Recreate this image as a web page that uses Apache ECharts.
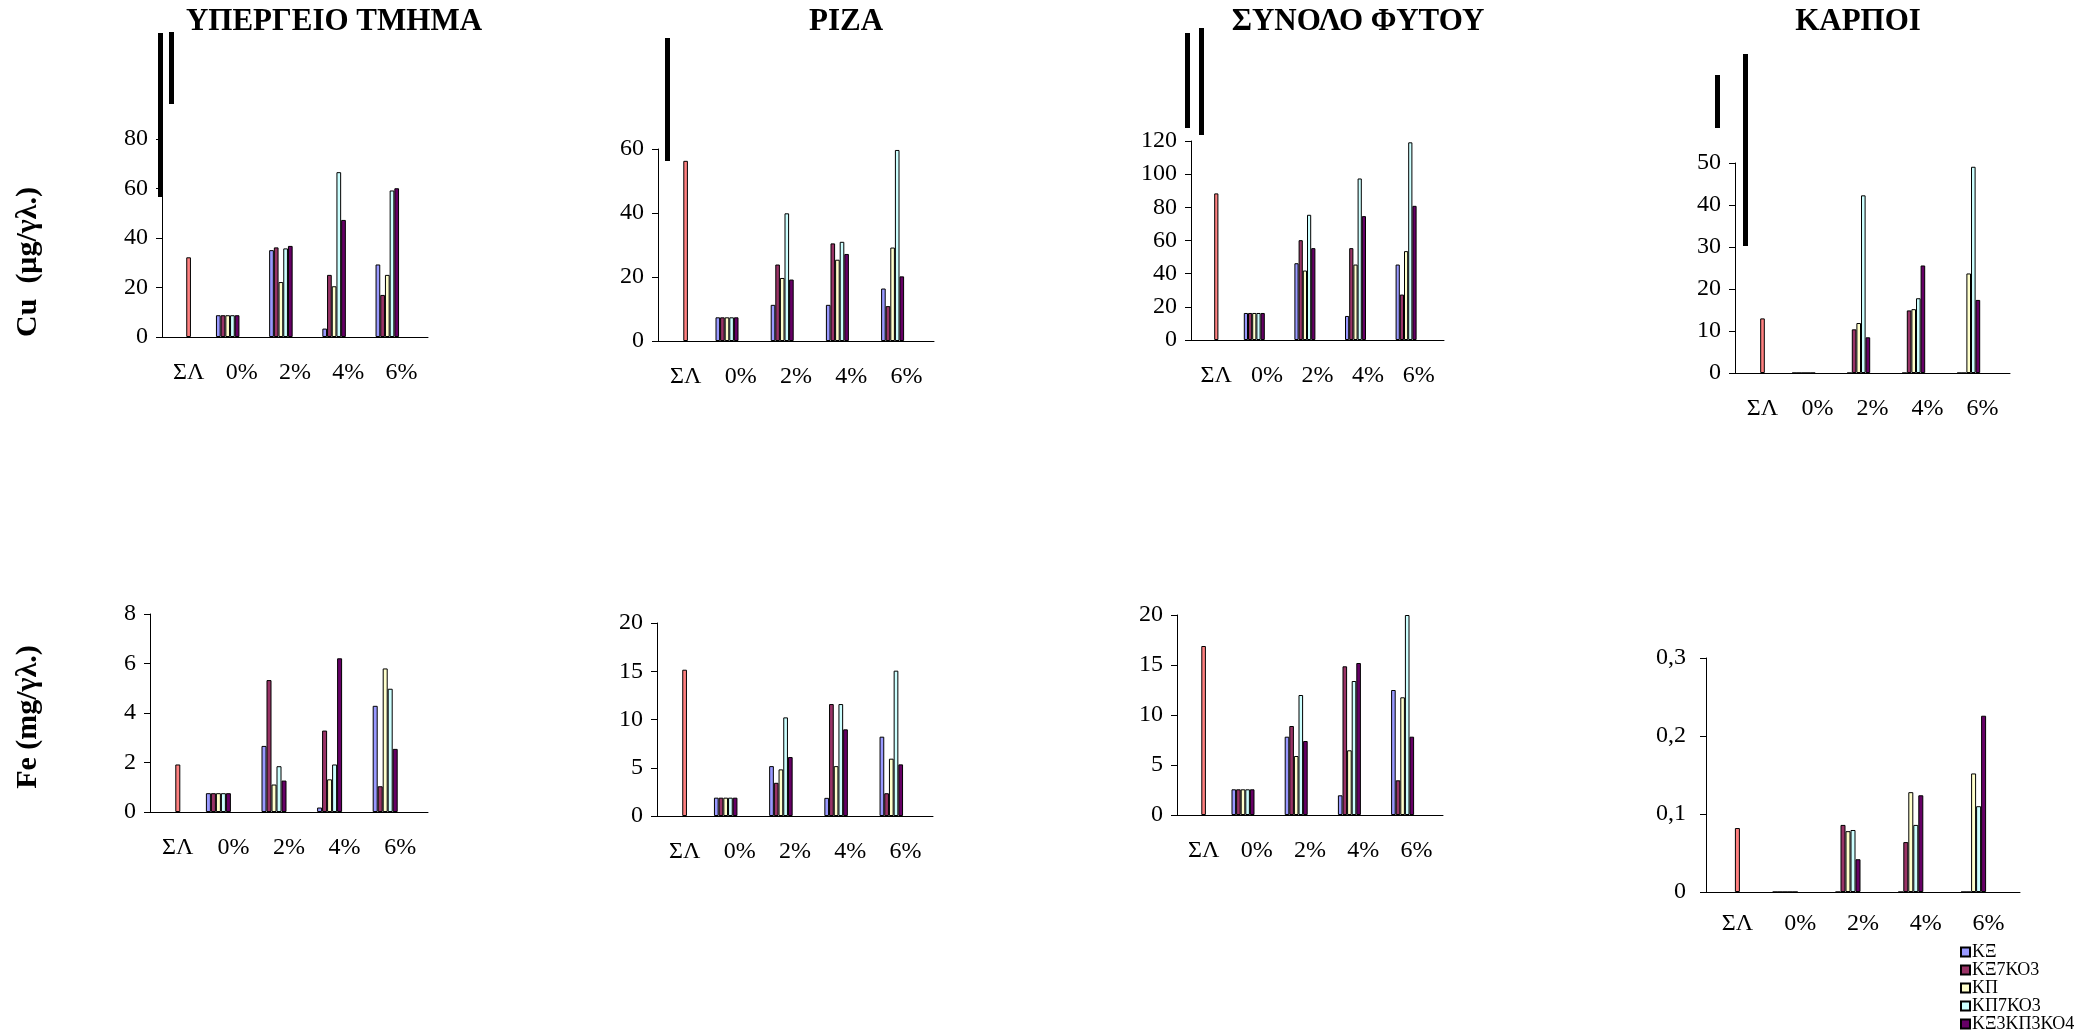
<!DOCTYPE html>
<html>
<head>
<meta charset="utf-8">
<script src="https://cdn.jsdelivr.net/npm/echarts@6/dist/echarts.min.js"></script>
<style>
  html, body { margin: 0; padding: 0; background: #fff; }
  #chart { width: 2098px; height: 1034px; }
</style>
</head>
<body>
<div id="chart"></div>
<script>
// Categories on every x axis
const categories = ['ΣΛ', '0%', '2%', '4%', '6%'];
// Treatments (legend order) and the control series
const treatments = ['ΚΞ', 'ΚΞ7ΚΟ3', 'ΚΠ', 'ΚΠ7ΚΟ3', 'ΚΞ3ΚΠ3ΚΟ4'];
const controlName = 'ΣΛ';
const treatmentColors = ['#9999FF', '#993366', '#FFFFCC', '#CCFFFF', '#660066'];
const controlColor = '#FF8080';

const panelTitles = ['ΥΠΕΡΓΕΙΟ ΤΜΗΜΑ', 'ΡΙΖΑ', 'ΣΥΝΟΛΟ ΦΥΤΟΥ', 'ΚΑΡΠΟΙ'];
const rowTitles = ['Cu  (μg/γλ.)', 'Fe (mg/γλ.)'];

// Cu, μg/g — control value, then one row per treatment for 0%, 2%, 4%, 6%
const cuShootControl = 32.2;
const cuShoot = [
  [8.8, 35.1, 3.4, 29.3],
  [8.8, 36.2, 25.1, 17.0],
  [8.8, 22.2, 20.5, 25.1],
  [8.8, 35.8, 66.6, 59.2],
  [8.8, 36.8, 47.3, 60.1]
];
const cuRootControl = 56.3;
const cuRoot = [
  [7.4, 11.3, 11.3, 16.4],
  [7.4, 23.9, 30.5, 10.9],
  [7.4, 19.7, 25.4, 29.2],
  [7.4, 39.9, 31.0, 59.7],
  [7.4, 19.2, 27.2, 20.2]
];
const cuPlantControl = 88.4;
const cuPlant = [
  [16.3, 46.3, 14.5, 45.5],
  [16.3, 60.2, 55.4, 27.4],
  [16.3, 41.9, 45.5, 53.6],
  [16.3, 75.5, 97.4, 119.2],
  [16.3, 55.4, 74.7, 80.9]
];
const cuFruitControl = 13.0;
const cuFruit = [
  [0, 0, 0, 0],
  [0, 10.4, 14.9, 0],
  [0, 11.9, 15.2, 23.7],
  [0, 42.3, 17.8, 49.1],
  [0, 8.5, 25.6, 17.4]
];

// Fe, mg/g
const feShootControl = 1.92;
const feShoot = [
  [0.76, 2.67, 0.18, 4.29],
  [0.76, 5.33, 3.29, 1.04],
  [0.76, 1.11, 1.32, 5.80],
  [0.76, 1.85, 1.92, 4.98],
  [0.76, 1.27, 6.21, 2.55]
];
const feRootControl = 15.16;
const feRoot = [
  [1.9, 5.17, 1.88, 8.22],
  [1.9, 3.44, 11.6, 2.36],
  [1.9, 4.83, 5.17, 5.94],
  [1.9, 10.22, 11.6, 15.06],
  [1.9, 6.11, 8.98, 5.35]
];
const fePlantControl = 16.9;
const fePlant = [
  [2.57, 7.83, 1.97, 12.5],
  [2.57, 8.9, 14.87, 3.47],
  [2.57, 5.9, 6.47, 11.77],
  [2.57, 12.0, 13.4, 20.0],
  [2.57, 7.4, 15.2, 7.83]
];
const feFruitControl = 0.082;
const feFruit = [
  [0, 0, 0, 0],
  [0, 0.086, 0.064, 0],
  [0, 0.078, 0.128, 0.152],
  [0, 0.0795, 0.086, 0.110],
  [0, 0.042, 0.124, 0.226]
];

// Axis ranges per panel
const axisMax = [80, 60, 120, 50, 8, 20, 20, 0.3];
const axisStep = [20, 20, 20, 10, 2, 5, 5, 0.1];

// Layout of each panel: plot box [left, top, width, height] and bar width
const layout = [
  { box: [162, 139, 266, 198], barW: 4.7 },
  { box: [658, 149, 276, 192], barW: 4.6 },
  { box: [1191, 141, 253, 199], barW: 4.2 },
  { box: [1735, 163, 275, 210], barW: 4.6 },
  { box: [150, 614, 278, 198], barW: 5.0 },
  { box: [657, 623, 276, 193], barW: 4.7 },
  { box: [1177, 615, 266, 200], barW: 4.6 },
  { box: [1706, 658, 314, 234], barW: 5.0 }
];

const panelData = [
  [cuShootControl, cuShoot], [cuRootControl, cuRoot], [cuPlantControl, cuPlant], [cuFruitControl, cuFruit],
  [feShootControl, feShoot], [feRootControl, feRoot], [fePlantControl, fePlant], [feFruitControl, feFruit]
];

const FONT = '"Liberation Serif", "Times New Roman", serif';

const grid = [], xAxis = [], yAxis = [], series = [];

panelData.forEach(([control, rows], i) => {
  const L = layout[i];
  const [left, top, width, height] = L.box;
  const axisGrid = 2 * i, barGrid = 2 * i + 1;
  // visible axes
  grid.push({ left, top, width, height, containLabel: false });
  // bar plot area: the control bar sits on the category centre
  grid.push({ left: left - 2.5 * L.barW, top, width, height, containLabel: false });

  xAxis.push({
    gridIndex: axisGrid, type: 'category', data: categories,
    axisLine: { show: true, lineStyle: { color: '#000', width: 1 } },
    axisTick: { show: false },
    axisLabel: { interval: 0, color: '#000', fontSize: 24, fontFamily: FONT, margin: i === 7 ? 20 : 24 }
  });
  xAxis.push({ gridIndex: barGrid, type: 'category', data: categories, show: false });

  const comma = axisMax[i] < 1;
  yAxis.push({
    gridIndex: axisGrid, type: 'value', min: 0, max: axisMax[i], interval: axisStep[i],
    axisLine: { show: true, lineStyle: { color: '#000', width: 1 } },
    axisTick: { show: true, length: 6, lineStyle: { color: '#000' } },
    splitLine: { show: false },
    axisLabel: {
      color: '#000', fontSize: 24, fontFamily: FONT, margin: comma ? 20 : 14,
      formatter: v => comma ? String(+v.toFixed(2)).replace('.', ',') : String(v)
    }
  });
  yAxis.push({ gridIndex: barGrid, type: 'value', min: 0, max: axisMax[i], show: false });

  treatments.forEach((name, k) => {
    series.push({
      type: 'bar', name, xAxisIndex: barGrid, yAxisIndex: barGrid,
      data: [null].concat(rows[k]),
      barWidth: L.barW, barGap: '0%',
      itemStyle: { color: treatmentColors[k], borderColor: '#000', borderWidth: 1 }
    });
  });
  series.push({
    type: 'bar', name: controlName, xAxisIndex: barGrid, yAxisIndex: barGrid,
    data: [control, null, null, null, null],
    barWidth: L.barW, barGap: '0%',
    itemStyle: { color: controlColor, borderColor: '#000', borderWidth: 1 }
  });
});

// Column headings, row headings and the heavy strokes above the upper axes
const titleCentres = [334, 846, 1358, 1858];
const graphic = [];
panelTitles.forEach((t, i) => {
  graphic.push({
    type: 'text', x: titleCentres[i], y: 22,
    style: { text: t, font: 'bold 31px ' + FONT, fill: '#000', textAlign: 'center', textVerticalAlign: 'middle' }
  });
});
[[28, 262], [28, 717]].forEach(([x, y], r) => {
  graphic.push({
    type: 'text', x, y, rotation: Math.PI / 2,
    style: { text: rowTitles[r], font: 'bold 30px ' + FONT, fill: '#000', textAlign: 'center', textVerticalAlign: 'middle' }
  });
});
const strokes = [
  [158, 33, 5, 164], [169, 32, 5, 72],
  [665, 38, 5, 123],
  [1185, 33, 5, 95], [1199, 28, 5, 107],
  [1715, 75, 5, 53], [1743, 54, 5, 192]
];
strokes.forEach(([x, y, w, h]) => {
  graphic.push({ type: 'rect', shape: { x, y, width: w, height: h }, style: { fill: '#000' }, z: 10 });
});

const chart = echarts.init(document.getElementById('chart'), null, { renderer: 'canvas' });
chart.setOption({
  backgroundColor: '#fff',
  animation: false,
  grid, xAxis, yAxis, series, graphic,
  legend: {
    data: treatments,
    orient: 'vertical',
    left: 1960, top: 943,
    height: 200,
    padding: 0,
    itemWidth: 9, itemHeight: 9, itemGap: 0,
    icon: 'rect',
    textStyle: { color: '#000', fontSize: 18, fontFamily: FONT, lineHeight: 17.5, padding: [0, 0, 0, -3] }
  }
});
</script>
</body>
</html>
